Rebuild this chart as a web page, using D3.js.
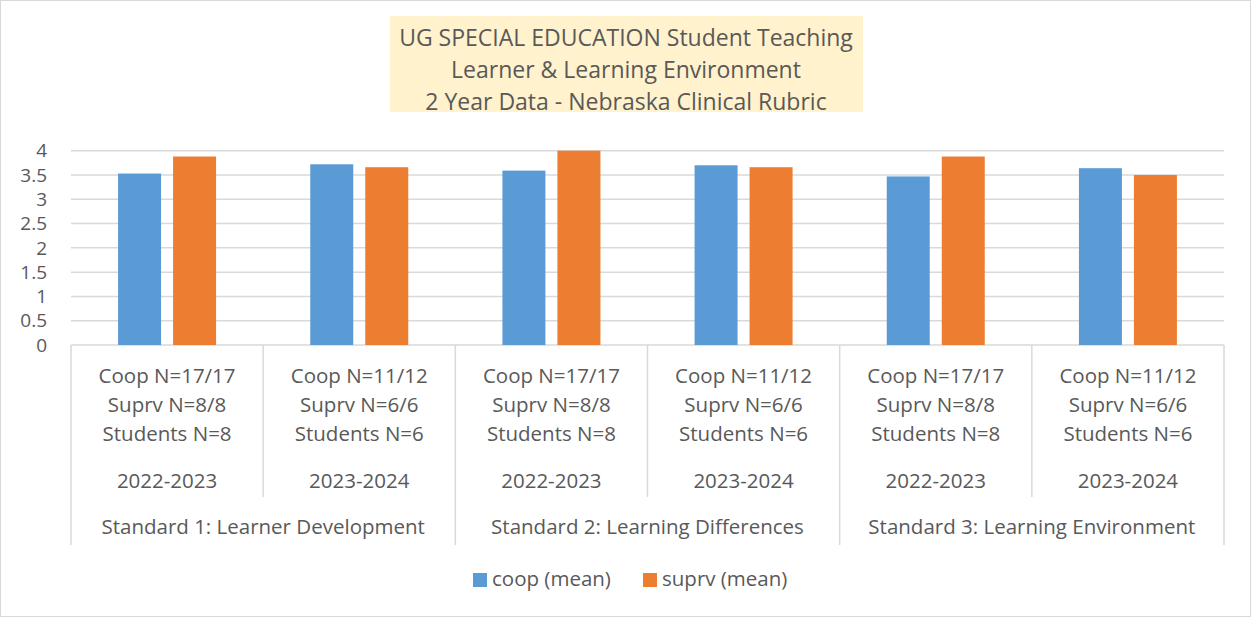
<!DOCTYPE html>
<html>
<head>
<meta charset="utf-8">
<script src="https://cdn.jsdelivr.net/npm/d3@7"></script>
<style>
  body { margin: 0; background: #fff; }
  svg text { font-family: "Open Sans", "Lato", sans-serif; fill: #595959; }
</style>
</head>
<body>
<div id="chart"></div>
<script>
// data
var years = ["2022-2023", "2023-2024", "2022-2023", "2023-2024", "2022-2023", "2023-2024"];
var coopN = ["Coop N=17/17", "Coop N=11/12", "Coop N=17/17", "Coop N=11/12", "Coop N=17/17", "Coop N=11/12"];
var suprvN = ["Suprv N=8/8", "Suprv N=6/6", "Suprv N=8/8", "Suprv N=6/6", "Suprv N=8/8", "Suprv N=6/6"];
var studentsN = ["Students N=8", "Students N=6", "Students N=8", "Students N=6", "Students N=8", "Students N=6"];
var standards = ["Standard 1: Learner Development", "Standard 2: Learning Differences", "Standard 3: Learning Environment"];
var seriesNames = ["coop (mean)", "suprv (mean)"];
var coopMean = [3.53, 3.72, 3.59, 3.70, 3.47, 3.64];
var suprvMean = [3.88, 3.66, 4.00, 3.66, 3.88, 3.50];
var yTicks = [0, 0.5, 1, 1.5, 2, 2.5, 3, 3.5, 4];
var titleLines = ["UG SPECIAL EDUCATION Student Teaching", "Learner & Learning Environment", "2 Year Data - Nebraska Clinical Rubric"];

var colors = ["#5b9bd5", "#ed7d31"];
var W = 1252, H = 617;
var plotLeft = 71, plotRight = 1224, plotTop = 150.7, plotBottom = 345;

var svg = d3.select("#chart").append("svg").attr("width", W).attr("height", H);
svg.append("rect").attr("x", 0.5).attr("y", 0.5).attr("width", W - 2).attr("height", H - 1)
  .attr("fill", "#fff").attr("stroke", "#d9d9d9");

// title box
svg.append("rect").attr("x", 390).attr("y", 16).attr("width", 473).attr("height", 96).attr("fill", "#fff2cc");
svg.selectAll("text.title").data(titleLines).enter().append("text")
  .attr("class", "title")
  .attr("x", 626).attr("y", function(d, i) { return 38 + i * 32; })
  .attr("dy", "0.35em").attr("text-anchor", "middle")
  .style("font-size", "23px")
  .text(function(d) { return d; });

var idx = d3.range(years.length);
var x = d3.scaleBand().domain(idx).range([plotLeft, plotRight]).padding(0);
var x1 = d3.scaleBand().domain(seriesNames).range([x.bandwidth() / 2 - 49, x.bandwidth() / 2 + 49])
  .paddingInner(12 / 55).paddingOuter(0);
var y = d3.scaleLinear().domain([0, 4]).range([plotBottom, plotTop]);

// gridlines
svg.selectAll("line.grid").data(yTicks).enter().append("line")
  .attr("x1", plotLeft).attr("x2", plotRight)
  .attr("y1", function(d) { return y(d); }).attr("y2", function(d) { return y(d); })
  .attr("stroke", "#d9d9d9").attr("stroke-width", 1.5);

// y labels
svg.selectAll("text.ytick").data(yTicks).enter().append("text")
  .attr("x", 47).attr("y", function(d) { return y(d); })
  .attr("dy", "0.35em").attr("text-anchor", "end")
  .style("font-size", "19px")
  .text(function(d) { return d; });

// bars
var rows = idx.map(function(i) { return { i: i, vals: [coopMean[i], suprvMean[i]] }; });
var g = svg.selectAll("g.cat").data(rows).enter().append("g")
  .attr("transform", function(d) { return "translate(" + x(d.i) + ",0)"; });
g.selectAll("rect").data(function(d) { return d.vals.map(function(v, k) { return { k: k, v: v }; }); })
  .enter().append("rect")
  .attr("x", function(d) { return x1(seriesNames[d.k]); })
  .attr("width", x1.bandwidth())
  .attr("y", function(d) { return y(d.v); })
  .attr("height", function(d) { return plotBottom - y(d.v); })
  .attr("fill", function(d) { return colors[d.k]; });

// category separators
var innerBottom = 497, outerBottom = 545;
idx.concat([years.length]).forEach(function(i) {
  var xx = i < years.length ? x(i) : plotRight;
  svg.append("line").attr("x1", xx).attr("x2", xx).attr("y1", plotBottom)
    .attr("y2", i % 2 === 0 ? outerBottom : innerBottom)
    .attr("stroke", "#d9d9d9").attr("stroke-width", 1.5);
});

// category labels
idx.forEach(function(i) {
  var cx = x(i) + x.bandwidth() / 2;
  [[coopN[i], 376], [suprvN[i], 405], [studentsN[i], 434], [years[i], 481]].forEach(function(p) {
    svg.append("text").attr("x", cx).attr("y", p[1]).attr("dy", "0.35em")
      .attr("text-anchor", "middle").style("font-size", "20.5px").text(p[0]);
  });
});
standards.forEach(function(s, j) {
  svg.append("text").attr("x", x(j * 2) + x.bandwidth()).attr("y", 527).attr("dy", "0.35em")
    .attr("text-anchor", "middle").style("font-size", "20.5px").text(s);
});

// legend
var legX = [473, 643];
seriesNames.forEach(function(s, k) {
  svg.append("rect").attr("x", legX[k]).attr("y", 573).attr("width", 14).attr("height", 14).attr("fill", colors[k]);
  svg.append("text").attr("x", legX[k] + 19).attr("y", 579).attr("dy", "0.35em")
    .style("font-size", "20.5px").text(s);
});
</script>
</body>
</html>
